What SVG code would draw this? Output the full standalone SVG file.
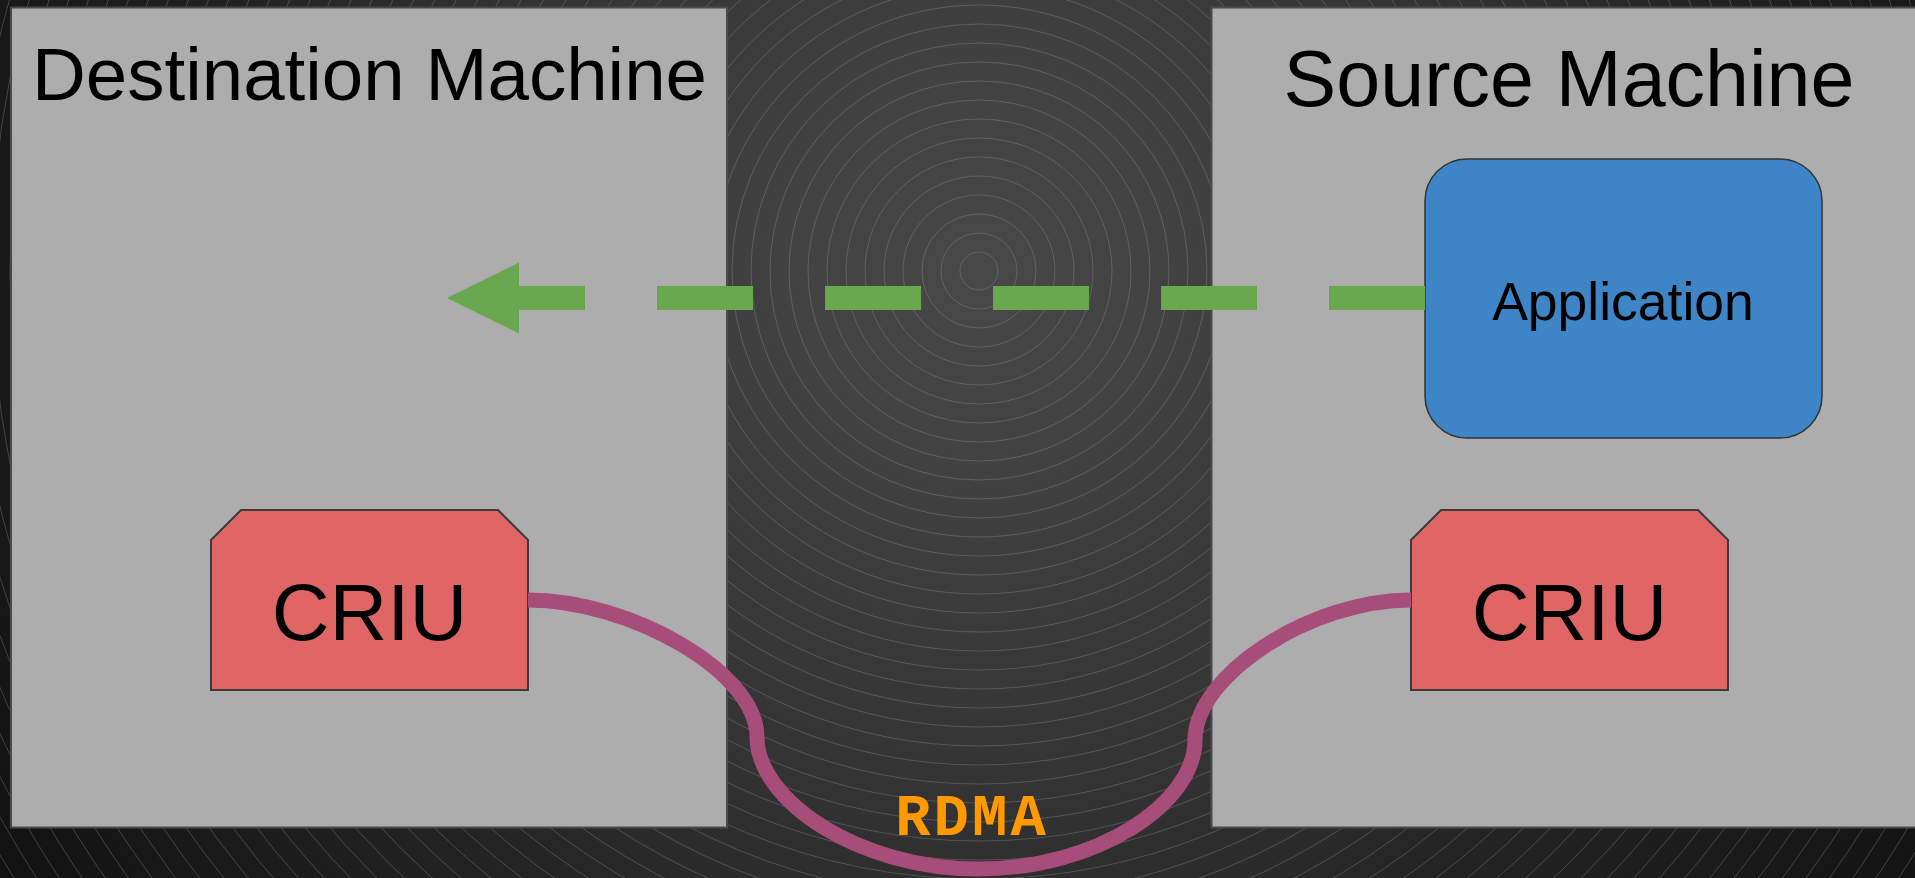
<svg xmlns="http://www.w3.org/2000/svg" width="1915" height="878" viewBox="0 0 1915 878">
<defs>
<radialGradient id="bg" gradientUnits="userSpaceOnUse" cx="979" cy="271" r="1160">
<stop offset="0" stop-color="#494949"/>
<stop offset="0.46" stop-color="#333333"/>
<stop offset="0.66" stop-color="#232323"/>
<stop offset="1" stop-color="#111111"/>
</radialGradient>
<marker id="arrowhead" markerUnits="userSpaceOnUse" markerWidth="72" markerHeight="72" refX="0" refY="35.5" orient="auto" viewBox="0 0 72 71">
<path d="M0,0 L72,35.5 L0,71 Z" fill="#6aa84f"/>
</marker>
</defs>
<style>
.ring{fill:none;stroke:#9a9a9a;stroke-opacity:0.42;stroke-width:0.8}
.panel{fill:#adadad;stroke:#4a4a4a;stroke-width:2}
.title{font-family:"Liberation Sans",Arial,sans-serif;fill:#000}
.criu{fill:#e06666;stroke:#3c3c3c;stroke-width:2}
.criu-text{font-family:"Liberation Sans",Arial,sans-serif;font-size:80px;fill:#000;text-anchor:middle}
</style>
<rect x="0" y="0" width="1915" height="878" fill="url(#bg)"/>
<g id="rings">
<circle class="ring" cx="979" cy="271" r="19"/><circle class="ring" cx="979" cy="271" r="38"/><circle class="ring" cx="979" cy="271" r="57"/><circle class="ring" cx="979" cy="271" r="76"/><circle class="ring" cx="979" cy="271" r="95"/><circle class="ring" cx="979" cy="271" r="114"/><circle class="ring" cx="979" cy="271" r="133"/><circle class="ring" cx="979" cy="271" r="152"/><circle class="ring" cx="979" cy="271" r="171"/><circle class="ring" cx="979" cy="271" r="190"/>
<circle class="ring" cx="979" cy="271" r="209"/><circle class="ring" cx="979" cy="271" r="228"/><circle class="ring" cx="979" cy="271" r="247"/><circle class="ring" cx="979" cy="271" r="266"/><circle class="ring" cx="979" cy="271" r="285"/><circle class="ring" cx="979" cy="271" r="304"/><circle class="ring" cx="979" cy="271" r="323"/><circle class="ring" cx="979" cy="271" r="342"/><circle class="ring" cx="979" cy="271" r="361"/><circle class="ring" cx="979" cy="271" r="380"/>
<circle class="ring" cx="979" cy="271" r="399"/><circle class="ring" cx="979" cy="271" r="418"/><circle class="ring" cx="979" cy="271" r="437"/><circle class="ring" cx="979" cy="271" r="456"/><circle class="ring" cx="979" cy="271" r="475"/><circle class="ring" cx="979" cy="271" r="494"/><circle class="ring" cx="979" cy="271" r="513"/><circle class="ring" cx="979" cy="271" r="532"/><circle class="ring" cx="979" cy="271" r="551"/><circle class="ring" cx="979" cy="271" r="570"/>
<circle class="ring" cx="979" cy="271" r="589"/><circle class="ring" cx="979" cy="271" r="608"/><circle class="ring" cx="979" cy="271" r="627"/><circle class="ring" cx="979" cy="271" r="646"/><circle class="ring" cx="979" cy="271" r="665"/><circle class="ring" cx="979" cy="271" r="684"/><circle class="ring" cx="979" cy="271" r="703"/><circle class="ring" cx="979" cy="271" r="722"/><circle class="ring" cx="979" cy="271" r="741"/><circle class="ring" cx="979" cy="271" r="760"/>
<circle class="ring" cx="979" cy="271" r="779"/><circle class="ring" cx="979" cy="271" r="798"/><circle class="ring" cx="979" cy="271" r="817"/><circle class="ring" cx="979" cy="271" r="836"/><circle class="ring" cx="979" cy="271" r="855"/><circle class="ring" cx="979" cy="271" r="874"/><circle class="ring" cx="979" cy="271" r="893"/><circle class="ring" cx="979" cy="271" r="912"/><circle class="ring" cx="979" cy="271" r="931"/><circle class="ring" cx="979" cy="271" r="950"/>
<circle class="ring" cx="979" cy="271" r="969"/><circle class="ring" cx="979" cy="271" r="988"/><circle class="ring" cx="979" cy="271" r="1007"/><circle class="ring" cx="979" cy="271" r="1026"/><circle class="ring" cx="979" cy="271" r="1045"/><circle class="ring" cx="979" cy="271" r="1064"/><circle class="ring" cx="979" cy="271" r="1083"/><circle class="ring" cx="979" cy="271" r="1102"/><circle class="ring" cx="979" cy="271" r="1121"/><circle class="ring" cx="979" cy="271" r="1140"/>
<circle class="ring" cx="979" cy="271" r="1159"/><circle class="ring" cx="979" cy="271" r="1178"/>
</g>
<g id="destination-machine">
<rect class="panel" x="11" y="7.5" width="716" height="820"/>
<text class="title" x="32" y="100" font-size="74.5">Destination Machine</text>
</g>
<g id="source-machine">
<rect class="panel" x="1211.5" y="7.5" width="720" height="820"/>
<text class="title" x="1569" y="106" font-size="79" text-anchor="middle">Source Machine</text>
</g>
<g id="application">
<rect x="1425" y="159" width="397" height="279" rx="42" ry="42" fill="#3d85c6" stroke="#333333" stroke-width="1.5"/>
<text class="title" x="1623" y="320" font-size="53.5" text-anchor="middle">Application</text>
</g>
<g id="criu-destination">
<path class="criu" d="M211,540 L241,510 L498,510 L528,540 L528,690 L211,690 Z"/>
<text class="criu-text" x="369.5" y="640">CRIU</text>
</g>
<g id="criu-source">
<path class="criu" d="M1411,540 L1441,510 L1698,510 L1728,540 L1728,690 L1411,690 Z"/>
<text class="criu-text" x="1569.5" y="640">CRIU</text>
</g>
<g id="connectors">
<line x1="1425" y1="298" x2="519" y2="298" stroke="#6aa84f" stroke-width="24" stroke-dasharray="96 72" marker-end="url(#arrowhead)"/>
<path d="M528,600 C630,600 757,672 757,737 C757,800 858,869 978,869 C1098,869 1195,803 1195,740 C1195,675 1311,600 1411,600" fill="none" stroke="#a64d79" stroke-width="15"/>
<text x="972" y="835" font-family="'Liberation Mono','Courier New',monospace" font-weight="bold" font-size="59" letter-spacing="3" fill="#ff9900" text-anchor="middle">RDMA</text>
</g>
</svg>
